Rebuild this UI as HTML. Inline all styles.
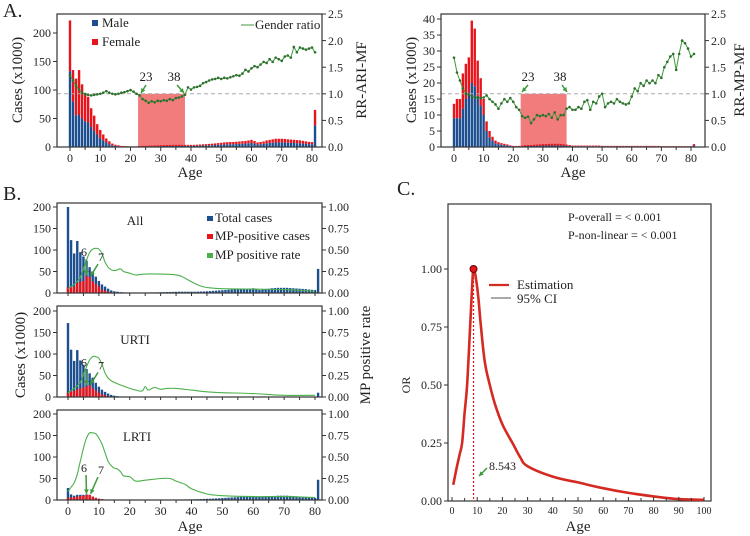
<!DOCTYPE html>
<html><head><meta charset="utf-8">
<style>
html,body{margin:0;padding:0;background:#fff;}
svg{display:block;font-family:"Liberation Serif",serif;}
</style></head>
<body>
<svg id="fig" width="750" height="536" viewBox="0 0 750 536" xmlns="http://www.w3.org/2000/svg"></svg>
<script>
// ---------- DATA ----------
const ages = [];for(let i=0;i<=81;i++)ages.push(i);
const maleA=[133,80,55,57,50,45,43,35,28,22, 15,12,8,5,3,2,1.5,1,1,0.8, 0.6,0.6,0.6,0.8,1,1,1.2,1.3,1.4,1.5, 1.6,1.7,1.8,1.9,2,2,2,2,2,2, 2,2,2.2,2.4,2.6,2.8,3,3.2,3.5,3.8, 4.2,4.5,4.8,5,5,5.2,5.5,5.8,6,6.5, 7,6,4.5,5,5.5,6.5,7,7.5,8,8, 8,7.8,7.5,7.2,7,6.8,6.5,6,5.5,5, 4.8,38];
const femaleA=[89,55,65,78,60,50,45,33,27,18, 15,10,7,5,3,2,1.5,1,0.8,0.6, 0.5,0.5,0.6,0.8,1,1,1.1,1.2,1.3,1.4, 1.5,1.6,1.6,1.7,1.8,1.8,1.8,1.8,1.8,1.8, 1.8,1.8,1.9,2,2.1,2.2,2.4,2.6,2.8,3, 3.3,3.5,3.7,3.8,3.8,4,4.2,4.4,4.6,5, 5.5,4.5,3.5,3.8,4.2,5,5.5,6,6.5,6.5, 6.5,6.3,6,5.8,5.6,5.4,5.2,4.8,4.4,4, 3.8,27];
const ratioA=[1.35,1.25,1.15,1.08,1.02,0.99,0.98,0.97,0.98,0.99, 1.0,1.02,1.05,1.02,1.0,0.99,1.0,1.02,1.03,1.05, 1.07,1.04,1.0,0.97,0.9,0.87,0.83,0.86,0.84,0.87, 0.86,0.88,0.87,0.9,0.88,0.92,0.93,0.95,0.98,1.12, 1.08,1.12,1.13,1.15,1.2,1.22,1.25,1.27,1.28,1.3, 1.28,1.3,1.29,1.31,1.33,1.35,1.34,1.38,1.45,1.42, 1.48,1.52,1.5,1.55,1.6,1.58,1.65,1.6,1.68,1.65, 1.62,1.7,1.72,1.68,1.88,1.78,1.87,1.85,1.83,1.85, 1.87,1.78];
const maleMP=[9,9,9,12,15,17,20,19,16,13, 10,5,3,2,1.2,0.9,0.7,0.6,0.5,0.3, 0.2,0.2,0.2,0.2,0.3,0.3,0.3,0.35,0.4,0.4, 0.45,0.45,0.5,0.5,0.5,0.5,0.5,0.45,0.4,0.3, 0.25,0.25,0.25,0.25,0.25,0.25,0.25,0.25,0.25,0.25, 0.2,0.2,0.2,0.2,0.2,0.2,0.2,0.2,0.2,0.2, 0.2,0.2,0.2,0.2,0.2,0.2,0.2,0.2,0.2,0.2, 0.15,0.15,0.15,0.15,0.15,0.15,0.15,0.15,0.15,0.15, 0.15,0.5];
const femaleMP=[4.5,6,6,11,11,11,19.5,18,11,8.5, 5,3,2,1.2,0.8,0.6,0.5,0.4,0.3,0.2, 0.15,0.15,0.15,0.2,0.25,0.3,0.3,0.35,0.35,0.4, 0.45,0.45,0.45,0.5,0.5,0.5,0.45,0.4,0.35,0.3, 0.2,0.2,0.2,0.2,0.2,0.2,0.2,0.2,0.2,0.2, 0.15,0.15,0.15,0.15,0.15,0.15,0.15,0.15,0.15,0.15, 0.15,0.15,0.15,0.15,0.15,0.15,0.15,0.15,0.15,0.15, 0.1,0.1,0.1,0.1,0.1,0.1,0.1,0.1,0.1,0.1, 0.1,0.4];
const ratioMP=[1.68,1.4,1.25,1.1,1.0,0.98,0.95,0.93,0.93,0.92, 0.93,0.97,0.9,0.85,0.8,0.72,0.82,0.9,0.85,0.92, 0.85,0.75,0.7,0.58,0.55,0.57,0.45,0.52,0.6,0.58, 0.6,0.58,0.62,0.55,0.65,0.52,0.6,0.6,0.72,0.75, 0.7,0.7,0.75,0.72,0.85,0.88,0.7,0.85,0.82,0.95, 1.0,0.75,0.82,0.85,0.82,0.9,0.85,0.82,0.8,0.82, 0.95,1.1,1.05,1.2,1.15,1.25,1.2,1.25,1.2,1.35, 1.3,1.5,1.6,1.7,1.75,1.45,1.75,2.0,1.95,1.85, 1.7,1.75];
const totalAll=[200,123,92,121,95,85,75,60,50,38, 28,20,15,10,6,4,3,2,1.5,1, 0.8,0.8,0.8,1,1,1.2,1.3,1.4,1.5,1.6, 1.8,2,2.2,2.4,2.6,2.8,3,3,3,3, 3,3,3.2,3.4,3.6,4,4.5,5,5.5,6, 6.5,7,7.5,8,8.2,8.5,9,9.5,10,10.5, 11,9,7,8,9,10,11,11.5,12,12, 12,12,11.5,11,10.5,10,9.5,9,8,7.5, 7,56];
const mpAll=[13,15,15,23,26,28,39,37,27,21, 15,8,5,3.2,2,1.5,1.2,1,0.8,0.5, 0.4,0.4,0.4,0.4,0.5,0.6,0.6,0.7,0.75,0.8, 0.9,0.9,0.95,1,1,1,0.95,0.85,0.75,0.6, 0.45,0.45,0.45,0.45,0.45,0.45,0.45,0.45,0.45,0.45, 0.35,0.35,0.35,0.35,0.35,0.35,0.35,0.35,0.35,0.35, 0.35,0.35,0.35,0.35,0.35,0.35,0.35,0.35,0.35,0.35, 0.25,0.25,0.25,0.25,0.25,0.25,0.25,0.25,0.25,0.25, 0.25,0.9];
const totalU=[172,110,84,109,85,75,65,55,45,33, 24,17,12,8,5,3,2,1,0.8,0.5, 0.3,0.3,0.3,0.3,0.3,0.3,0.3,0.3,0.3,0.3, 0.3,0.3,0.3,0.3,0.3,0.3,0.3,0.3,0.3,0.3, 0.3,0.3,0.3,0.3,0.3,0.3,0.3,0.3,0.3,0.3, 0.3,0.3,0.3,0.3,0.3,0.3,0.3,0.3,0.3,0.3, 0.3,0.3,0.3,0.3,0.3,0.3,0.3,0.3,0.3,0.3, 0.3,0.3,0.3,0.3,0.3,0.3,0.3,0.3,0.3,0.3, 0.3,10];
const mpU=[10,13,14,18,20,22,25,27,20,15, 10,6,4,2,1,0.6,0.4,0.3,0.2,0.1, 0.1,0.1,0.1,0.1,0.1,0.1,0.1,0.1,0.1,0.1, 0.1,0.1,0.1,0.1,0.1,0.1,0.1,0.1,0.1,0.1, 0.1,0.1,0.1,0.1,0.1,0.1,0.1,0.1,0.1,0.1, 0.1,0.1,0.1,0.1,0.1,0.1,0.1,0.1,0.1,0.1, 0.1,0.1,0.1,0.1,0.1,0.1,0.1,0.1,0.1,0.1, 0.1,0.1,0.1,0.1,0.1,0.1,0.1,0.1,0.1,0.1, 0.1,0.3];
const totalL=[28,13,10,12,12,12,13,12,8,5, 3,2,1.2,0.8,0.5,0.4,0.3,0.3,0.3,0.3, 0.3,0.3,0.3,0.3,0.3,0.4,0.4,0.5,0.5,0.6, 0.6,0.7,0.8,0.9,1,1.1,1.2,1.3,1.4,1.5, 1.6,1.8,2,2.2,2.5,2.8,3,3.3,3.6,4, 4.5,5,5.5,6,6.3,6.6,7,7.3,7.6,8, 8.5,8,7,7.5,8,8.5,9,9.5,10,10, 10,10,9.5,9,8.5,8,7.5,7,6,5.5, 5,47];
const mpL=[5,6,7,8,9,10,12,12,8,5, 3,2,1,0.6,0.4,0.3,0.2,0.2,0.2,0.2, 0.1,0.1,0.1,0.1,0.1,0.1,0.1,0.1,0.1,0.1, 0.1,0.1,0.1,0.1,0.1,0.1,0.1,0.1,0.1,0.1, 0.1,0.1,0.1,0.1,0.1,0.1,0.1,0.1,0.1,0.1, 0.1,0.1,0.1,0.1,0.1,0.1,0.1,0.1,0.1,0.1, 0.1,0.1,0.1,0.1,0.1,0.1,0.1,0.1,0.1,0.1, 0.1,0.1,0.1,0.1,0.1,0.1,0.1,0.1,0.1,0.1, 0.1,0.3];
const rateAgesAll=[0,2,4,5,6,7,8,9,10,11,12,13,14,15,16,17,18,19,20,22,25,30,35,37,40,43,46,50,60,70,80];
const rateAll=[0.05,0.1,0.18,0.28,0.38,0.47,0.51,0.52,0.51,0.46,0.36,0.3,0.27,0.26,0.27,0.28,0.25,0.24,0.23,0.21,0.22,0.22,0.21,0.19,0.13,0.08,0.06,0.05,0.045,0.04,0.02];
const rateAgesU=[0,2,4,5,6,7,8,9,10,11,12,13,14,15,17,20,22,24,25,26,28,30,32,35,40,45,50,60,70,80];
const rateU=[0.05,0.1,0.17,0.26,0.35,0.43,0.47,0.47,0.45,0.38,0.28,0.22,0.19,0.17,0.14,0.1,0.08,0.07,0.12,0.08,0.11,0.09,0.1,0.1,0.08,0.06,0.05,0.04,0.02,0.02];
const rateAgesL=[0,1,2,3,4,5,6,7,8,9,10,11,12,13,14,15,16,17,18,20,22,25,30,33,35,38,40,45,50,60,70,80];
const rateL=[0.1,0.15,0.2,0.3,0.45,0.6,0.72,0.78,0.78,0.77,0.72,0.65,0.55,0.45,0.4,0.37,0.36,0.33,0.28,0.27,0.22,0.23,0.25,0.25,0.22,0.18,0.13,0.07,0.05,0.04,0.04,0.03];
const orAges=[0.5,2,3,4,5,6,7.2,8,8.543,9.5,10.5,11.5,13,15,17,20,24,27,30,40,50,60,70,80,90,100];
const orVals=[0.07,0.15,0.2,0.25,0.38,0.5,0.75,0.93,1.0,0.96,0.87,0.75,0.6,0.5,0.42,0.33,0.25,0.19,0.15,0.105,0.08,0.055,0.035,0.02,0.008,0.005];
const peakAge=8.543;
const xTicks80=[0,10,20,30,40,50,60,70,80];
const yTicksA=[0,50,100,150,200];
const yTicksMP=[0,5,10,15,20,25,30,35,40];
const rTicks=[0,0.5,1.0,1.5,2.0,2.5];
const yTicksB=[0,50,100,150,200];
const rTicksB=[0,0.25,0.5,0.75,1.0];
const xTicksC=[0,10,20,30,40,50,60,70,80,90,100];
const yTicksC=[0,0.25,0.5,0.75,1.0];

// ---------- HELPERS ----------
const NS="http://www.w3.org/2000/svg";
const svg=document.getElementById('fig');
const BLUE="#1c4f8f",RED="#e8141b",GREEN="#3c9a3c";
function mk(tag,attrs,parent){const e=document.createElementNS(NS,tag);for(const k in attrs)e.setAttribute(k,attrs[k]);(parent||svg).appendChild(e);return e;}
function lin(d0,d1,r0,r1){return v=>r0+(v-d0)*(r1-r0)/(d1-d0);}
function txt(x,y,s,size,anchor,parent,extra){const t=mk('text',Object.assign({x:x,y:y,'font-size':size,'text-anchor':anchor||'start',fill:'#222'},extra||{}),parent);t.textContent=s;return t;}
function grp(name){const g=mk('g',{});return g;}
function fmt(v,d){return v.toFixed(d);}

function frame(g,x0,y0,x1,y1){const r=mk('rect',{x:x0,y:y0,width:x1-x0,height:y1-y0,fill:'none',stroke:'#333','stroke-width':1.2},g);

}

function xAxis(g,X,yb,ticks,minor,size,inward){
  minor.forEach(v=>{const l=mk('line',{x1:X(v),x2:X(v),y1:yb,y2:inward?yb-3:yb+3,stroke:'#333'},g);
  
  });
  ticks.forEach(v=>{const l=mk('line',{x1:X(v),x2:X(v),y1:yb,y2:inward?yb-4:yb+4,stroke:'#333'},g);
  
  
  const t=txt(X(v),yb+size+3,String(v),size,'middle',g);
  
  });
}
function yAxis(g,Y,x,ticks,dec,size,right){
  ticks.forEach(v=>{const l=mk('line',{x1:x,x2:right?x+4:x-4,y1:Y(v),y2:Y(v),stroke:'#333'},g);
  
  
  const t=txt(right?x+6:x-6,Y(v)+size*0.35,fmt(v,dec),size,right?'start':'end',g);
  
  });
}
function vlabel(g,x,y,s,size,name){const t=txt(x,y,s,size,'middle',g,{transform:`rotate(-90 ${x} ${y})`});

}
function polyline(g,X,Y,xs,ys,color,w,name,dots){
  const pts=xs.map((a,i)=>X(a).toFixed(1)+','+Y(ys[i]).toFixed(1)).join(' ');
  const p=mk('polyline',{points:pts,fill:'none',stroke:color,'stroke-width':w},g);
  
  
  if(dots){xs.forEach((a,i)=>{const c=mk('circle',{cx:X(a),cy:Y(ys[i]),r:1.3,fill:'#2e6f2e'},g);
  
  });}
}
function smoothPath(g,X,Y,xs,ys,color,w,name){
  const P=xs.map((a,i)=>[X(a),Y(ys[i])]);
  let d='M'+P[0][0].toFixed(1)+','+P[0][1].toFixed(1);
  for(let i=0;i<P.length-1;i++){
    const p0=P[Math.max(0,i-1)],p1=P[i],p2=P[i+1],p3=P[Math.min(P.length-1,i+2)];
    const t=0.18;
    const c1=[p1[0]+(p2[0]-p0[0])*t,p1[1]+(p2[1]-p0[1])*t];
    const c2=[p2[0]-(p3[0]-p1[0])*t,p2[1]-(p3[1]-p1[1])*t];
    d+=` C${c1[0].toFixed(1)},${c1[1].toFixed(1)} ${c2[0].toFixed(1)},${c2[1].toFixed(1)} ${p2[0].toFixed(1)},${p2[1].toFixed(1)}`;
  }
  const p=mk('path',{d:d,fill:'none',stroke:color,'stroke-width':w,'stroke-linejoin':'round'},g);
  
  
}
function arrow(g,x1,y1,x2,y2){
  const l=mk('line',{x1:x1,y1:y1,x2:x2,y2:y2,stroke:GREEN,'stroke-width':1.5},g);
  
  
  const a=Math.atan2(y2-y1,x2-x1),s=5;
  const p=mk('polygon',{points:`${x2},${y2} ${x2-s*Math.cos(a-0.5)},${y2-s*Math.sin(a-0.5)} ${x2-s*Math.cos(a+0.5)},${y2-s*Math.sin(a+0.5)}`,fill:GREEN},g);
  
  
}
function stackBars(g,X,Y,bottom,top,w,cb,ct){
  ages.forEach((a,i)=>{
    const yb=Y(0),y1=Y(bottom[i]),y2=Y(bottom[i]+top[i]);
    const r1=mk('rect',{x:X(a)-w/2,y:y1,width:w,height:yb-y1,fill:cb},g);
    
    
    const r2=mk('rect',{x:X(a)-w/2,y:y2,width:w,height:y1-y2,fill:ct},g);
    
    
  });
}
function overlayBars(g,X,Y,total,mp,w){
  ages.forEach((a,i)=>{
    const yb=Y(0),y1=Y(total[i]),y2=Y(mp[i]);
    const r1=mk('rect',{x:X(a)-w/2,y:y1,width:w,height:yb-y1,fill:BLUE},g);
    
    
    const r2=mk('rect',{x:X(a)-w/2,y:y2,width:w,height:yb-y2,fill:RED},g);
    
    
  });
}
const minor80=[5,15,25,35,45,55,65,75];

// ---------- PANEL A LEFT ----------
(function(){
  const g=grp('panel-a-left');
  const X=lin(0,80,70,312),Y=lin(0,200,147,33),R=lin(0,2.5,147,14);
  const sh=mk('rect',{x:X(22.5),y:R(1),width:X(38)-X(22.5),height:R(0)-R(1),fill:'#f27c7c'},g);
  
  
  stackBars(g,X,Y,maleA,femaleA,2.4,BLUE,RED);
  const d=mk('line',{x1:57,x2:322,y1:R(1),y2:R(1),stroke:'#aaa','stroke-dasharray':'4,3'},g);
  
  
  polyline(g,X,R,ages,ratioA,GREEN,1,'gender-ratio-line',true);
  frame(g,57,14,322,147);
  xAxis(g,X,147,xTicks80,minor80,12,false);
  yAxis(g,Y,57,yTicksA,0,12,false);
  yAxis(g,R,322,rTicks,1,12,true);
  vlabel(g,22,80,'Cases (x1000)',15,'y-axis-title');
  vlabel(g,366,80,'RR-ARI-MF',15,'y-right-axis-title');
  let t=txt(190,177,'Age',15,'middle',g);
  
  
  t=txt(3,17,'A.',20,'start',g);
  
  
  let r=mk('rect',{x:92,y:20,width:6,height:6,fill:BLUE},g);
  
  
  t=txt(102,27,'Male',13,'start',g);
  
  
  r=mk('rect',{x:92,y:39,width:6,height:6,fill:RED},g);
  
  
  t=txt(102,46,'Female',13,'start',g);
  
  
  const l=mk('line',{x1:241,x2:254,y1:25,y2:25,stroke:GREEN},g);
  
  
  t=txt(255,29,'Gender ratio',13,'start',g);
  
  
  t=txt(146,81,'23',13,'middle',g);
  
  
  t=txt(174,81,'38',13,'middle',g);
  
  
  arrow(g,146,85,141,93);
  arrow(g,177,85,184,93);
})();

// ---------- PANEL A RIGHT ----------
(function(){
  const g=grp('panel-a-right');
  const X=lin(0,80,454,691),Y=lin(0,40,147,19),R=lin(0,2.5,147,14);
  const sh=mk('rect',{x:X(22.5),y:R(1),width:X(38)-X(22.5),height:R(0)-R(1),fill:'#f27c7c'},g);
  
  
  stackBars(g,X,Y,maleMP,femaleMP,2.4,BLUE,RED);
  const d=mk('line',{x1:441,x2:705,y1:R(1),y2:R(1),stroke:'#aaa','stroke-dasharray':'4,3'},g);
  
  
  polyline(g,X,R,ages,ratioMP,GREEN,1,'gender-ratio-line',true);
  frame(g,441,14,705,147);
  xAxis(g,X,147,xTicks80,minor80,12,false);
  yAxis(g,Y,441,yTicksMP,0,12,false);
  yAxis(g,R,705,rTicks,1,12,true);
  vlabel(g,416,80,'Cases (x1000)',15,'y-axis-title');
  vlabel(g,744,80,'RR-MP-MF',15,'y-right-axis-title');
  let t=txt(573,177,'Age',15,'middle',g);
  
  
  t=txt(528,81,'23',13,'middle',g);
  
  
  t=txt(560,81,'38',13,'middle',g);
  
  
  arrow(g,528,85,522,92);
  arrow(g,562,85,567,92);
})();

// ---------- PANEL B ----------
(function(){
  const subs=[
    {name:'subplot-all',top:203,bot:293,y200:207,total:totalAll,mp:mpAll,ra:rateAgesAll,rv:rateAll,label:'All',ly:225},
    {name:'subplot-urti',top:306,bot:397,y200:311,total:totalU,mp:mpU,ra:rateAgesU,rv:rateU,label:'URTI',ly:344},
    {name:'subplot-lrti',top:410,bot:500,y200:414,total:totalL,mp:mpL,ra:rateAgesL,rv:rateL,label:'LRTI',ly:441}
  ];
  const X=lin(0,80,68,315);
  subs.forEach((s,k)=>{
    const g=grp(s.name);
    const Y=lin(0,200,s.bot,s.y200),R=lin(0,1,s.bot,s.y200);
    overlayBars(g,X,Y,s.total,s.mp,2.4);
    smoothPath(g,X,R,s.ra,s.rv,'#4bb04b',1.1,'mp-rate-line');
    frame(g,57,s.top,322,s.bot);
    if(k===2) xAxis(g,X,s.bot,xTicks80,minor80,12,false);
    else xAxis(g,X,s.bot,[],xTicks80.concat(minor80),12,false);
    yAxis(g,Y,57,yTicksB,0,12,false);
    yAxis(g,R,322,rTicksB,2,12,true);
    let t=txt(s.label==='LRTI'?137:135,s.ly,s.label,13,'middle',g);
    
    
    const yb=s.bot;
    const y6=Y(s.mp[6]),y7=Y(s.mp[7]);
    t=txt(84,k===2?yb-28:y6-20,'6',12,'middle',g);
    
    
    t=txt(101,k===2?yb-26:y7-16,'7',12,'middle',g);
    
    
    arrow(g,86,k===2?yb-25:y6-17,X(6),y6-1);
    arrow(g,98,k===2?yb-23:y7-13,X(7)+1,y7-1);
  });
  const g=grp('panel-b-labels');
  vlabel(g,25,355,'Cases (x1000)',15,'y-axis-title');
  vlabel(g,370,355,'MP positive rate',15,'y-right-axis-title');
  let t=txt(190,531,'Age',15,'middle',g);
  
  
  t=txt(3,200,'B.',20,'start',g);
  
  
  const items=[[BLUE,'Total cases',222],[RED,'MP-positive cases',240],['#4bb04b','MP positive rate',259]];
  items.forEach(it=>{
    const r=mk('rect',{x:207,y:it[2]-6,width:6,height:5,fill:it[0]},g);
    
    
    const tt=txt(215,it[2],it[1],13,'start',g);
    
    
  });
})();

// ---------- PANEL C ----------
(function(){
  const g=grp('panel-c');
  const X=lin(0,100,452,704),Y=lin(0,1,501,269);
  frame(g,448,204,711,501);
  const dl=mk('line',{x1:X(peakAge),x2:X(peakAge),y1:Y(1),y2:Y(0),stroke:RED,'stroke-dasharray':'2,2','stroke-width':1.2},g);
  
  
  smoothPath(g,X,Y,orAges,orVals,'#d42a22',2.6,'estimation-curve');
  const c=mk('circle',{cx:X(peakAge),cy:Y(1),r:3.5,fill:RED,stroke:'#600','stroke-width':1},g);
  
  
  xAxis(g,X,501,xTicksC,[5,15,25,35,45,55,65,75,85,95],10,true);
  yAxis(g,Y,448,yTicksC,2,12,false);
  vlabel(g,410,385,'OR',12,'y-axis-title');
  let t=txt(578,531,'Age',15,'middle',g);
  
  
  t=txt(397,195,'C.',20,'start',g);
  
  
  t=txt(568,221,'P-overall = < 0.001',12,'start',g);
  
  
  t=txt(568,239,'P-non-linear = < 0.001',12,'start',g);
  
  
  let l=mk('line',{x1:489,x2:509,y1:285,y2:285,stroke:'#d42a22','stroke-width':2.2},g);
  
  
  t=txt(517,289,'Estimation',13,'start',g);
  
  
  l=mk('line',{x1:491,x2:511,y1:298,y2:298,stroke:'#555','stroke-width':1},g);
  
  
  t=txt(517,303,'95% CI',13,'start',g);
  
  
  t=txt(489,470,'8.543',12,'start',g);
  
  
  arrow(g,487,468,479,476);
})();
</script>
</body></html>
